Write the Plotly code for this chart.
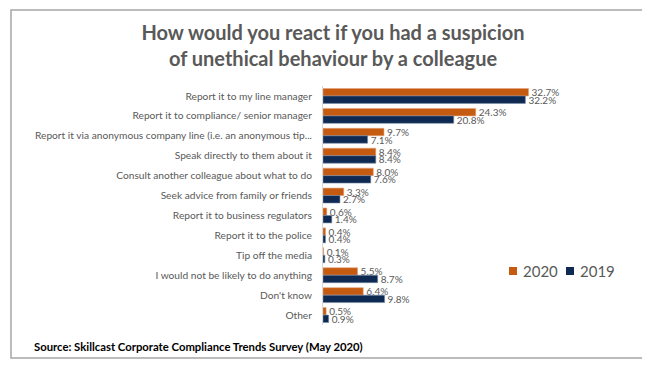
import plotly.graph_objects as go

categories = [
    "Report it to my line manager",
    "Report it to compliance/ senior manager",
    "Report it via anonymous company line (i.e. an anonymous tip...",
    "Speak directly to them about it",
    "Consult another colleague about what to do",
    "Seek advice from family or friends",
    "Report it to business regulators",
    "Report it to the police",
    "Tip off the media",
    "I would not be likely to do anything",
    "Don't know",
    "Other",
]
series_names = ["2020", "2019"]
values_2020 = [32.7, 24.3, 9.7, 8.4, 8.0, 3.3, 0.6, 0.4, 0.1, 5.5, 6.4, 0.5]
values_2019 = [32.2, 20.8, 7.1, 8.4, 7.6, 2.7, 1.4, 0.4, 0.3, 8.7, 9.8, 0.9]

W, H = 650, 365
ML, MR, MT, MB = 315, 115, 78, 48
PW, PH = W - ML - MR, H - MT - MB

def px_x(x):
    return (x - ML) / PW

def px_y(y):
    return (H - MB - y) / PH

FONT = "Lato"
GRAY = "#595959"
COLORS = ["#C55A11", "#0E2A52"]
EDGES = ["#E8A27A", "#7A8DA8"]

fig = go.Figure()
for name, vals, col, edge in zip(series_names, [values_2020, values_2019], COLORS, EDGES):
    fig.add_trace(go.Bar(
        y=categories, x=vals, name=name, orientation="h",
        marker=dict(color=col, line=dict(color=edge, width=0.6)),
        text=[f"{v:.1f}%" for v in vals], textposition="outside",
        constraintext="none",
        textfont=dict(family=FONT, size=10, color=GRAY), cliponaxis=False,
        showlegend=False,
    ))

# legend drawn as squares + text (matches tight Excel-style legend spacing)
legend_shapes = []
legend_annos = []
for i, (name, col) in enumerate(zip(series_names, COLORS)):
    x0 = 501 + i * 57
    legend_shapes.append(dict(
        type="rect", xref="paper", yref="paper",
        x0=px_x(x0), x1=px_x(x0 + 8), y0=px_y(267), y1=px_y(259),
        line=dict(width=0), fillcolor=col,
    ))
    legend_annos.append(dict(
        text=name, xref="paper", yref="paper", x=px_x(x0 + 12), y=px_y(263),
        xanchor="left", yanchor="middle", showarrow=False,
        font=dict(family=FONT, size=15, color=GRAY),
    ))

fig.update_layout(
    width=W, height=H,
    margin=dict(l=ML, r=MR, t=MT, b=MB, pad=0, autoexpand=False),
    paper_bgcolor="white", plot_bgcolor="white",
    barmode="group", bargap=0.25, bargroupgap=0,
    title=dict(
        text="How would you react if you had a suspicion<br>of unethical behaviour by a colleague",
        x=0.5, xanchor="center", xref="container", y=1 - 32 / H, yanchor="middle",
        font=dict(family=FONT, size=20, color=GRAY, weight="bold"),
    ),
    showlegend=False,
    xaxis=dict(range=[0, 35], visible=False, fixedrange=True),
    yaxis=dict(
        autorange="reversed", showline=True, linecolor="#D9D9D9", linewidth=1,
        ticks="", ticklabelstandoff=8, showgrid=False, automargin=False,
        tickfont=dict(family=FONT, size=10.2, color=GRAY),
    ),
    shapes=[dict(
        type="rect", xref="paper", yref="paper",
        x0=px_x(3), x1=px_x(646), y0=px_y(350), y1=px_y(2),
        line=dict(color="#A6A6A6", width=1.5), fillcolor="rgba(0,0,0,0)", layer="below",
    )] + legend_shapes,
    annotations=[dict(
        text="Source: Skillcast Corporate Compliance Trends Survey (May 2020)",
        xref="paper", yref="paper", x=px_x(24), y=px_y(338),
        xanchor="left", yanchor="middle", showarrow=False,
        font=dict(family=FONT, size=11.3, color="black", weight="bold"),
    )] + legend_annos,
)

fig.write_html("out.html")
